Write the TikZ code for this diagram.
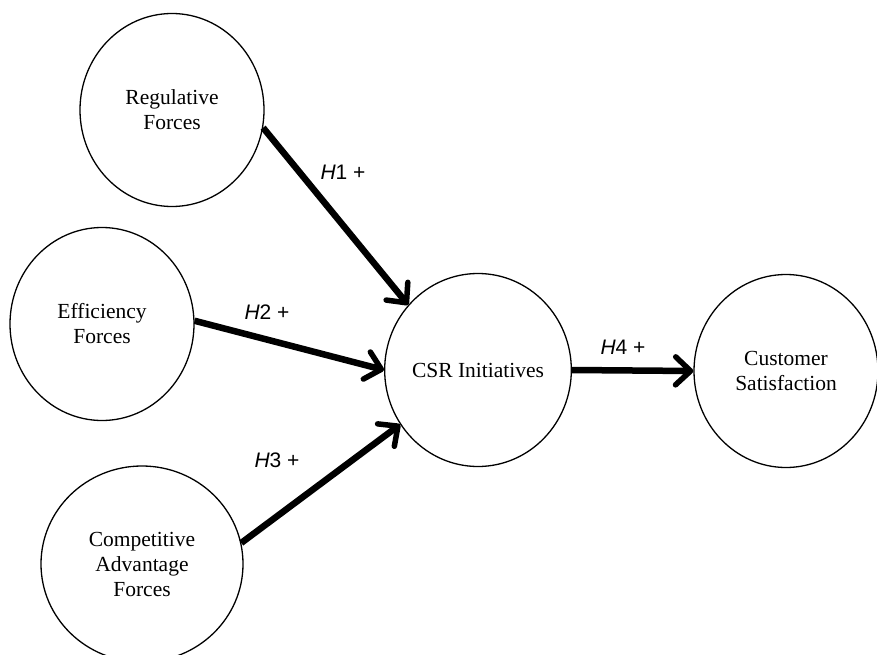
\documentclass[tikz,border=0pt]{standalone}
\usepackage{fontspec}
\setmainfont{Liberation Serif}
\newfontfamily\labelfont{Liberation Sans}
\usetikzlibrary{shapes.geometric,arrows.meta}

\tikzset{
  construct/.style={ellipse, draw, line width=1.3pt, inner sep=0pt,
    minimum width=184pt, minimum height=193pt, align=center,
    font=\fontsize{21.5pt}{25pt}\selectfont},
  path/.style={line width=6.5pt,
    -{Straight Barb[length=15pt,width=28pt,line width=5.5pt,round]}},
  hyp/.style={font=\labelfont\fontsize{21pt}{24pt}\selectfont, inner sep=0pt}
}

\begin{document}
\begin{tikzpicture}[x=1pt,y=-1pt]
  \useasboundingbox (0,0) rectangle (877,655);

  % constructs
  \node[construct] (reg)  at (172,110) {Regulative\\Forces};
  \node[construct] (eff)  at (102,324) {Efficiency\\Forces};
  \node[construct, minimum width=202pt, minimum height=196pt] (comp) at (142,564) {Competitive\\Advantage\\Forces};
  \node[construct] (csr)  at (478,370) {CSR Initiatives};
  \node[construct] (cust) at (786,371) {Customer\\Satisfaction};

  % hypothesised paths
  \draw[path] (reg.-11) -- (csr.137);
  \draw[path] (eff.2)   -- (csr.180);
  \draw[path] (comp.12) -- (csr.-145);
  \draw[path] (csr.east) -- (cust.west);

  % hypothesis labels
  \node[hyp] (h1) at (343,172) {\textit{H}1 +};
  \node[hyp] (h2) at (267,312) {\textit{H}2 +};
  \node[hyp] (h3) at (277,460) {\textit{H}3 +};
  \node[hyp] (h4) at (623,347) {\textit{H}4 +};
\end{tikzpicture}
\end{document}
